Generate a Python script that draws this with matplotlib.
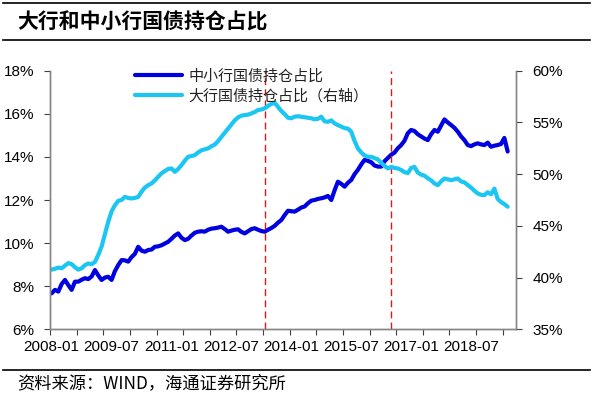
import matplotlib
matplotlib.use("Agg")
import matplotlib.pyplot as plt
import pandas as pd

plt.rcParams['font.family'] = ['Liberation Sans', 'Noto Sans CJK SC', 'DejaVu Sans']

# monthly data, 2008-01 .. 2019-06
months = pd.period_range('2008-01', periods=138, freq='M').strftime('%Y-%m').tolist()

small_banks = [  # 中小行国债持仓占比, %
    7.67, 7.83, 7.75, 8.10, 8.29, 8.05, 7.83, 8.21, 8.21, 8.30,
    8.37, 8.33, 8.45, 8.75, 8.50, 8.29, 8.40, 8.44, 8.29, 8.70,
    8.98, 9.21, 9.20, 9.14, 9.35, 9.50, 9.83, 9.65, 9.60, 9.68,
    9.70, 9.83, 9.85, 9.90, 9.98, 10.06, 10.20, 10.35, 10.45, 10.25,
    10.14, 10.20, 10.35, 10.48, 10.53, 10.55, 10.53, 10.62, 10.67, 10.69,
    10.72, 10.76, 10.65, 10.53, 10.58, 10.62, 10.64, 10.52, 10.45, 10.55,
    10.65, 10.69, 10.62, 10.56, 10.53, 10.62, 10.70, 10.80, 10.95, 11.07,
    11.30, 11.50, 11.48, 11.46, 11.55, 11.65, 11.70, 11.85, 11.97, 12.00,
    12.05, 12.08, 12.12, 12.19, 12.00, 12.45, 12.85, 12.75, 12.62, 12.80,
    12.93, 13.20, 13.40, 13.65, 13.86, 13.82, 13.75, 13.60, 13.55, 13.55,
    13.80, 13.95, 14.10, 14.20, 14.40, 14.55, 14.75, 15.10, 15.25, 15.20,
    15.05, 14.95, 14.85, 14.78, 15.05, 15.25, 15.17, 15.45, 15.74, 15.60,
    15.48, 15.35, 15.17, 14.95, 14.78, 14.55, 14.50, 14.58, 14.63, 14.58,
    14.55, 14.66, 14.47, 14.52, 14.55, 14.60, 14.88, 14.25,
]

big_banks = [  # 大行国债持仓占比 (右轴), %
    40.77, 40.85, 40.97, 40.90, 41.15, 41.40, 41.30, 41.00, 40.77, 40.90,
    41.20, 41.36, 41.30, 41.50, 42.20, 43.00, 44.20, 45.40, 46.40, 47.00,
    47.42, 47.50, 47.80, 47.70, 47.65, 47.70, 47.80, 48.30, 48.70, 48.93,
    49.10, 49.40, 49.75, 50.07, 50.30, 50.50, 50.55, 50.22, 50.50, 50.87,
    51.30, 51.68, 51.75, 51.84, 52.10, 52.30, 52.40, 52.49, 52.70, 52.85,
    53.20, 53.60, 54.00, 54.40, 54.80, 55.20, 55.49, 55.65, 55.71, 55.75,
    55.87, 56.00, 56.20, 56.25, 56.36, 56.60, 56.78, 56.90, 56.50, 56.10,
    55.80, 55.45, 55.40, 55.55, 55.60, 55.55, 55.50, 55.45, 55.40, 55.30,
    55.35, 55.55, 55.10, 55.06, 55.20, 54.90, 54.74, 54.60, 54.45, 54.40,
    54.10, 53.20, 52.49, 52.10, 51.80, 51.68, 51.68, 51.55, 51.42, 51.10,
    50.80, 50.55, 50.70, 50.60, 50.55, 50.40, 50.20, 50.10, 50.60, 50.70,
    50.15, 49.95, 49.85, 49.60, 49.40, 49.10, 48.93, 49.30, 49.58, 49.50,
    49.42, 49.50, 49.58, 49.30, 49.20, 48.95, 48.70, 48.40, 48.13, 48.00,
    47.97, 48.25, 48.05, 48.60, 47.60, 47.30, 47.10, 46.85,
]

xtick_labels = ['2008-01', '2009-07', '2011-01', '2012-07',
                '2014-01', '2015-07', '2017-01', '2018-07']
event_months = ['2013-05', '2016-07']
left_ticks = [6, 8, 10, 12, 14, 16, 18]
right_ticks = [35, 40, 45, 50, 55, 60]

DARK = '#0000E0'
LIGHT = '#1CC6F2'
SPINE = '#868686'

fig = plt.figure(figsize=(5.93, 3.94), dpi=100)
ax = fig.add_axes([50 / 593, 1 - 329.3 / 394, 466 / 593, 258.6 / 394])
ax2 = ax.twinx()

x = list(range(len(months)))
l1, = ax.plot(x, small_banks, color=DARK, lw=3, solid_capstyle='round',
              label='中小行国债持仓占比')
l2, = ax2.plot(x, big_banks, color=LIGHT, lw=3, solid_capstyle='round',
               label='大行国债持仓占比（右轴）')

for m in event_months:
    ax.axvline(months.index(m), color='#E01818', lw=1.0, dashes=(5, 3))

ax.set_xlim(-0.5, 139.5)
ax.set_ylim(6, 18)
ax2.set_ylim(35, 60)

ax.set_yticks(left_ticks)
ax.set_yticklabels([f'{v}%' for v in left_ticks])
ax2.set_yticks(right_ticks)
ax2.set_yticklabels([f'{v}%' for v in right_ticks])

ax.set_xticks([months.index(m) for m in xtick_labels])
ax.set_xticklabels(xtick_labels)
ax.set_xticks([-0.5 + 8 * k for k in range(18)], minor=True)

ax.tick_params(axis='x', which='major', length=0, pad=8, labelsize=11)
ax.tick_params(axis='x', which='minor', length=4, width=0.8, color='#404040', direction='out')
ax.tick_params(axis='y', length=4, width=0.8, pad=7, labelsize=11, color='#404040')
ax2.tick_params(axis='y', length=4, width=0.8, pad=8, labelsize=11, color='#404040')

for a in (ax, ax2):
    a.spines['top'].set_visible(False)
    for s in ('left', 'right', 'bottom'):
        a.spines[s].set_color(SPINE)
        a.spines[s].set_linewidth(1.0)

leg = ax2.legend(handles=[l1, l2], loc='upper left', bbox_to_anchor=(0.17, 1.03),
                 frameon=False, handlelength=3.1, handletextpad=0.45,
                 labelspacing=0.35, borderaxespad=0,
                 prop={'family': 'Noto Sans CJK SC', 'size': 10.8})
for t in leg.get_texts():
    t.set_color('#222222')

# title block and source
fig.add_artist(plt.Line2D([3 / 593, 590 / 593], [1 - 2.7 / 394] * 2, color='black', lw=1.2))
fig.add_artist(plt.Line2D([3 / 593, 590 / 593], [1 - 40 / 394] * 2, color='black', lw=1.2))
fig.text(17 / 593, 1 - 22 / 394, '大行和中小行国债持仓占比', ha='left', va='center',
         fontsize=15, fontweight='bold', family='Noto Sans CJK SC')
fig.add_artist(plt.Line2D([3 / 593, 590 / 593], [1 - 370 / 394] * 2, color='black', lw=1.2))
fig.text(17 / 593, 1 - 384 / 394, '资料来源：WIND，海通证券研究所', ha='left', va='center',
         fontsize=12.4, family='Noto Sans CJK SC')

fig.savefig('out.png', dpi=100)
